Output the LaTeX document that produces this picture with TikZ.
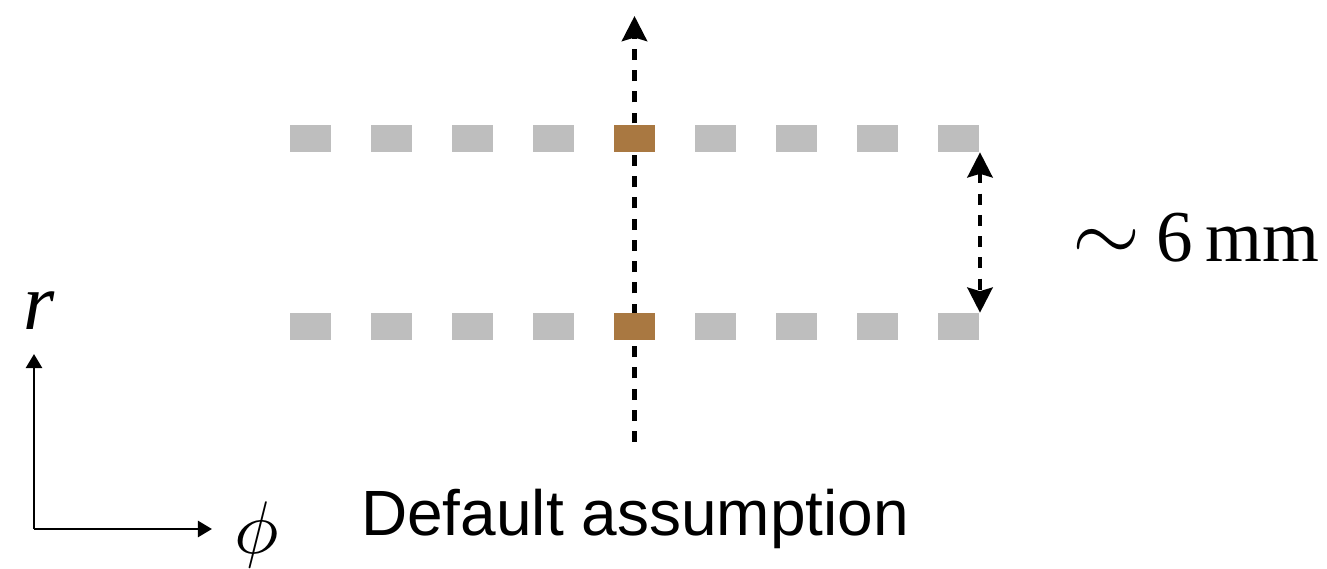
\documentclass[tikz,border=0pt]{standalone}
\usepackage{fontspec}
\setmainfont{Liberation Serif}
\setsansfont{Liberation Sans}
\usetikzlibrary{arrows.meta}

\definecolor{padgray}{RGB}{190,190,190}
\definecolor{padbrown}{RGB}{169,120,65}

\tikzset{
  pad/.style={rectangle,fill=padgray,inner sep=0pt,minimum width=1.025cm,minimum height=0.675cm},
  hit/.style={pad,fill=padbrown},
  track/.style={line width=3.4pt,dash pattern=on 7.8pt off 7.3pt,-{Stealth[length=17.8pt,width=17.8pt,inset=2.5pt]}},
  gap/.style={line width=3.4pt,dash pattern=on 7.8pt off 7.3pt,{Stealth[length=17.8pt,width=17.8pt,inset=2.5pt]}-{Stealth[length=17.8pt,width=17.8pt,inset=2.5pt]}},
  axis/.style={line width=1.8pt,-{Triangle[length=10pt,width=11.4pt]}}
}

\begin{document}
\begin{tikzpicture}[x=0.025cm,y=-0.025cm]
\useasboundingbox (0,0) rectangle (1327,569);

%Track through both layers
\coordinate (tbot) at (634.5,442);
\coordinate (ttop) at (634.5,16);
\draw[track] (tbot) -- (ttop);

%Outer layer of pads
\foreach \i in {1,...,9}
  \node[pad] (o\i) at ({310.5+81*(\i-1)},138.5) {};
%Inner layer of pads
\foreach \i in {1,...,9}
  \node[pad] (n\i) at ({310.5+81*(\i-1)},326.5) {};

%Pads hit by the track
\node[hit] at (o5) {};
\node[hit] at (n5) {};

%Layer spacing
\draw[gap] ([xshift=0.5pt]o9.south east) -- ([xshift=0.5pt]n9.north east);
\node[anchor=base west,font=\fontsize{52}{56}\selectfont] (dist) at (1068,262) {\scalebox{2.5}{$\sim$}\hspace{-2pt} 6\,mm};

%Coordinate system
\coordinate (orig) at (34,529);
\coordinate (rend) at (34,354);
\coordinate (phiend) at (212,529);
\draw[axis] (orig) -- (rend);
\draw[axis] (orig) -- (phiend);
\node[anchor=base,font=\fontsize{57}{60}\selectfont\itshape] (rlab) at (39,330) {r};
\node[anchor=base] (philab) at (257,553) {\scalebox{5.3}{$\phi$}};

%Caption
\node[anchor=base,font=\sffamily\fontsize{45.5}{50}\selectfont] (cap) at (635,535) {Default assumption};
\end{tikzpicture}
\end{document}
